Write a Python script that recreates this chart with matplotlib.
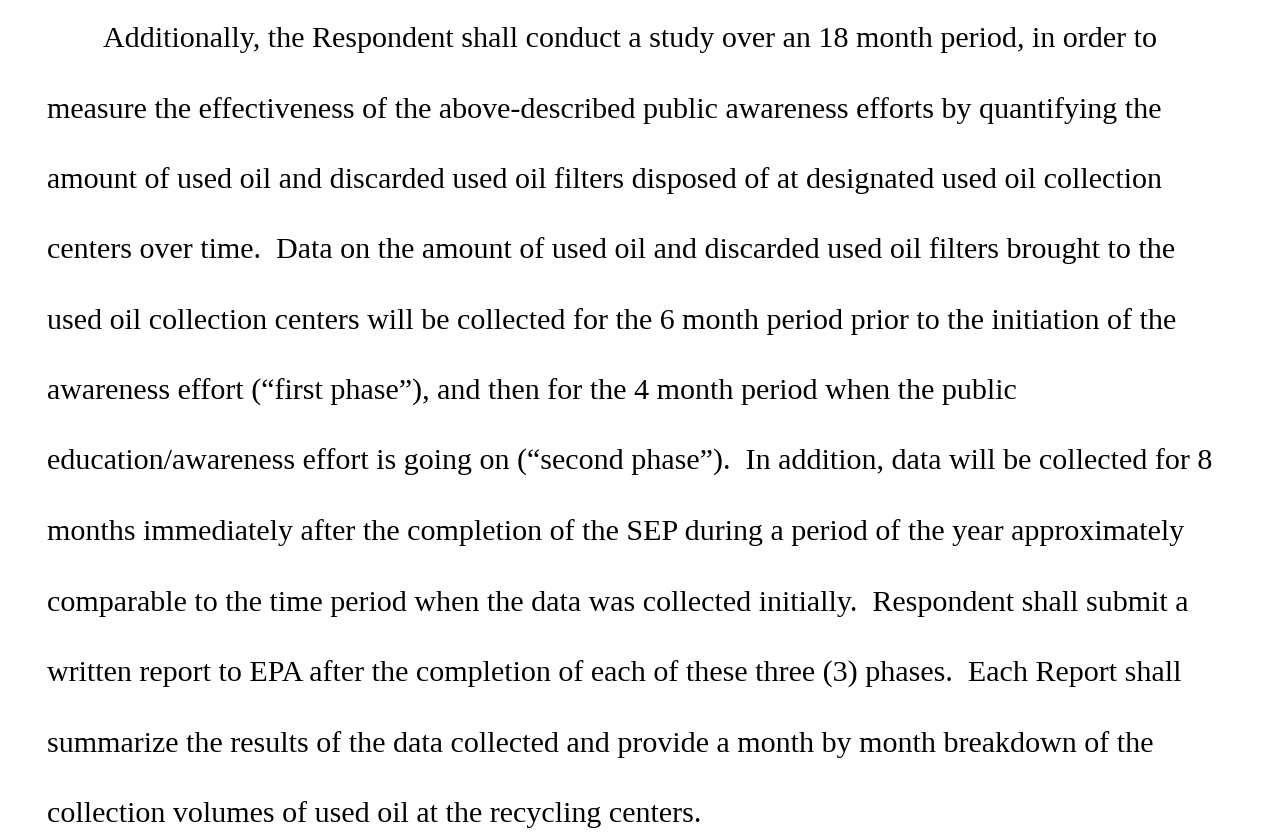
import matplotlib
matplotlib.use("Agg")
import matplotlib.pyplot as plt

# paragraph lines as they break in the scanned page
lines = [
    "Additionally, the Respondent shall conduct a study over an 18 month period, in order to",
    "measure the effectiveness of the above-described public awareness efforts by quantifying the",
    "amount of used oil and discarded used oil filters disposed of at designated used oil collection",
    "centers over time.  Data on the amount of used oil and discarded used oil filters brought to the",
    "used oil collection centers will be collected for the 6 month period prior to the initiation of the",
    "awareness effort (\u201cfirst phase\u201d), and then for the 4 month period when the public",
    "education/awareness effort is going on (\u201csecond phase\u201d).  In addition, data will be collected for 8",
    "months immediately after the completion of the SEP during a period of the year approximately",
    "comparable to the time period when the data was collected initially.  Respondent shall submit a",
    "written report to EPA after the completion of each of these three (3) phases.  Each Report shall",
    "summarize the results of the data collected and provide a month by month breakdown of the",
    "collection volumes of used oil at the recycling centers.",
]
indented = [True] + [False] * (len(lines) - 1)

W, H = 1275, 837
fig = plt.figure(figsize=(W / 100, H / 100), dpi=100)
fig.patch.set_facecolor("white")

left = 47
indent = 103
first_base = 47
step = 70.5

for i, (txt, ind) in enumerate(zip(lines, indented)):
    x = (indent if ind else left) / W
    y = 1 - (first_base + i * step) / H
    fig.text(x, y, txt, fontsize=21.6, family="Liberation Serif",
             color="black", ha="left", va="baseline")

fig.savefig("out.png", dpi=100, facecolor="white")
